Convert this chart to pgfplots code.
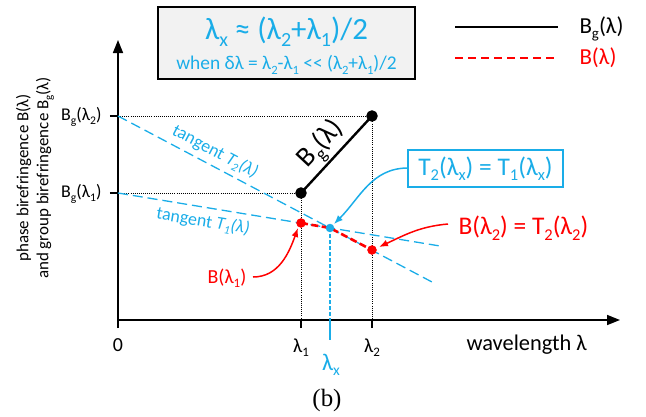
\documentclass[border=0pt]{standalone}
\usepackage{fontspec}
\setmainfont{Carlito}
\newfontfamily\seriffont{Liberation Serif}
\usepackage{graphicx}
\usepackage{pgfplots}
\pgfplotsset{compat=1.18}
\usetikzlibrary{arrows.meta}
\definecolor{lb}{HTML}{1AADE8}
\definecolor{rd}{HTML}{FF0000}
\definecolor{bx}{HTML}{F2F2F2}
\newcommand\sub[1]{\raisebox{-0.22em}{\scalebox{0.65}{#1}}}
\newcommand\fs[1]{\fontsize{#1}{#1}\selectfont}
\begin{document}
\begin{tikzpicture}
\begin{axis}[
 x=1bp, y=1bp, xmin=0, xmax=502, ymin=0, ymax=280,
 axis lines=left,
 axis line style={line width=1.6pt, -{Triangle[length=13bp,width=10bp]}},
 clip=false,
 xtick={0,183,254}, ytick={127,204},
 xticklabels={,,}, yticklabels={,},
 tick align=outside, major tick length=8bp,
 tick style={line width=1.4pt, black},
]
% invisible frame for page size
\path (axis cs:-118,-96) rectangle (axis cs:528,320);
% dotted guides
\addplot[black, line width=0.7pt, dash pattern=on 0.8pt off 1.3pt] coordinates {(0,204)(254,204)(254,0)};
\addplot[black, line width=0.7pt, dash pattern=on 0.8pt off 1.3pt] coordinates {(0,127)(183,127)(183,0)};
% tangents
\addplot[lb, line width=1.3pt, dash pattern=on 10bp off 5bp] coordinates {(0,204)(314,38)};
\addplot[lb, line width=1.3pt, dash pattern=on 10bp off 5bp] coordinates {(0,127)(322,74)};
% lambda_x vertical
\addplot[lb, line width=1.3pt, dash pattern=on 4bp off 2bp] coordinates {(212,92)(212,0)};
\addplot[lb, line width=1.6pt] coordinates {(212,0)(212,-20)};
% group birefringence
\addplot[black, line width=2.4pt, mark=*, mark size=4.5bp] coordinates {(183,127)(254,204)};
% phase birefringence
\addplot[rd, line width=2.6pt, dash pattern=on 7bp off 3.5bp] coordinates {(183,97)(212,92)(254,70)};
\addplot[rd, only marks, mark=*, mark size=4.5bp] coordinates {(183,97)(254,70)};
\addplot[lb, only marks, mark=*, mark size=4bp] coordinates {(212,92)};
% legend
\addplot[black, line width=2.4pt] coordinates {(337,293)(440,293)};
\addplot[rd, line width=2.6pt, dash pattern=on 8bp off 5bp] coordinates {(337,262)(440,262)};
\node[anchor=west, font=\fs{23}] at (axis cs:458,291) {B\sub{g}(λ)};
\node[anchor=west, font=\fs{23}, text=rd] at (axis cs:458,262) {B(λ)};
% title box
\node[draw=black, line width=1.8pt, fill=bx, minimum width=257bp, minimum height=72bp, inner sep=0pt] at (axis cs:168.5,277) {};
\node[text=lb, font=\fs{31}] at (axis cs:168.5,288) {λ\sub{x} ≈ (λ\sub{2}+λ\sub{1})/2};
\node[text=lb, font=\fs{19.5}] at (axis cs:168.5,255) {when δλ = λ\sub{2}-λ\sub{1} <\kern0pt< (λ\sub{2}+λ\sub{1})/2};
% axis labels and ticks
\node[rotate=90, align=center, font=\fontsize{17}{20}\selectfont] at (axis cs:-83,142) {phase birefringence B(λ)\\and group birefringence B\sub{g}(λ)};
\node[anchor=east, font=\fs{18}] at (axis cs:-13,203) {B\sub{g}(λ\sub{2})};
\node[anchor=east, font=\fs{18}] at (axis cs:-13,126) {B\sub{g}(λ\sub{1})};
\node[font=\fs{20}] at (axis cs:0,-25) {0};
\node[font=\fs{20}] at (axis cs:183,-28) {λ\sub{1}};
\node[font=\fs{20}] at (axis cs:254,-28) {λ\sub{2}};
\node[font=\fs{24}, text=lb] at (axis cs:213,-45) {λ\sub{x}};
\node[anchor=west, font=\fs{22.5}] at (axis cs:345,-25) {wavelength λ};
\node[font=\seriffont\fs{25}] at (axis cs:209,-81) {(b)};
% annotations
\node[rotate=47, font=\fs{28}] at (axis cs:204,175) {B\sub{g}(λ)};
\node[rotate=-27.8, font=\fs{18}, text=lb] at (axis cs:97,168) {tangent \textit{T\sub{2}(λ)}};
\node[rotate=-9.3, font=\fs{18}, text=lb] at (axis cs:85,98) {tangent \textit{T\sub{1}(λ)}};
\node[draw=lb, line width=1.5pt, fill=white, minimum width=155bp, minimum height=37bp, inner sep=0pt, text=lb, font=\fs{25.5}] at (axis cs:367.5,151.5) {T\sub{2}(λ\sub{x}) = T\sub{1}(λ\sub{x})};
\draw[lb, line width=1.5pt, -{Latex[length=9bp,width=7bp]}] (axis cs:290,152) to[out=180, in=45] (axis cs:216,96);
\node[anchor=west, text=rd, font=\fs{25.5}] at (axis cs:337,92) {B(λ\sub{2}) = T\sub{2}(λ\sub{2})};
\draw[rd, line width=1.5pt, -{Latex[length=9bp,width=7bp]}] (axis cs:330,96) to[out=185, in=25] (axis cs:261,73);
\node[text=rd, font=\fs{20}] at (axis cs:109,42) {B(λ\sub{1})};
\draw[rd, line width=1.5pt, -{Latex[length=9bp,width=7bp]}] (axis cs:135,43) to[out=0, in=-110] (axis cs:180,92);
\end{axis}
\end{tikzpicture}
\end{document}
